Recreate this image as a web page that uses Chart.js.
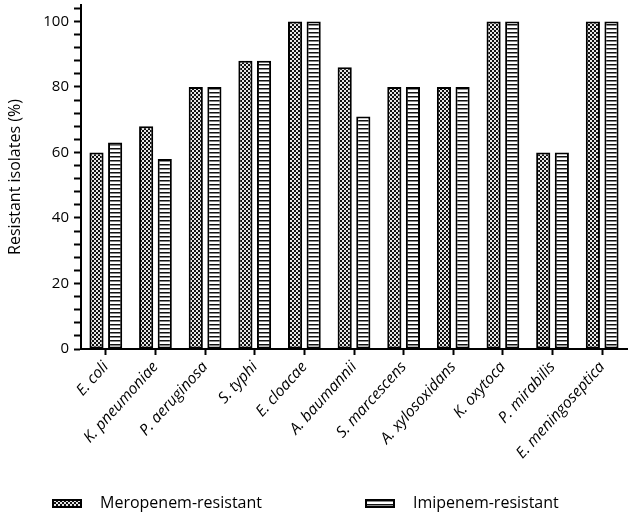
<!DOCTYPE html>
<html>
<head>
<meta charset="utf-8">
<script src="https://cdn.jsdelivr.net/npm/chart.js@4.4.1/dist/chart.umd.min.js"></script>
<style>
  html, body { margin: 0; padding: 0; background: #fff; }
  #wrap { width: 637px; height: 516px; }
</style>
</head>
<body>
<div id="wrap"><canvas id="chart" width="637" height="516"></canvas></div>
<script>
const species = [
  "E. coli", "K. pneumoniae", "P. aeruginosa", "S. typhi", "E. cloacae",
  "A. baumannii", "S. marcescens", "A. xylosoxidans", "K. oxytoca",
  "P. mirabilis", "E. meningoseptica",
];
const meropenem = [60, 68, 80, 88, 100, 86, 80, 80, 100, 60, 100];
const imipenem = [63, 58, 80, 88, 100, 71, 80, 80, 100, 60, 100];
const seriesNames = ["Meropenem-resistant", "Imipenem-resistant"];
const yMajorTicks = [0, 20, 40, 60, 80, 100];

const FONT = "'Open Sans', sans-serif";

// Fill patterns for the bars
function checkerPattern() {
  const c = document.createElement("canvas");
  c.width = 4;
  c.height = 4;
  const g = c.getContext("2d");
  g.fillStyle = "#e6e6e6";
  g.fillRect(0, 0, 4, 4);
  g.fillStyle = "#111111";
  g.fillRect(0, 0, 2, 2);
  g.fillRect(2, 2, 2, 2);
  return g.createPattern(c, "repeat");
}

function stripePattern() {
  const c = document.createElement("canvas");
  c.width = 4;
  c.height = 4;
  const g = c.getContext("2d");
  g.fillStyle = "#ffffff";
  g.fillRect(0, 0, 4, 4);
  g.fillStyle = "#111111";
  g.fillRect(0, 0, 4, 1);
  g.fillStyle = "#888888";
  g.fillRect(0, 1, 4, 1);
  return g.createPattern(c, "repeat");
}

const fills = [checkerPattern(), stripePattern()];

// Legend drawn below the axis labels
const bottomLegend = {
  id: "bottomLegend",
  afterDraw(chart) {
    const ctx = chart.ctx;
    const items = [
      { x: 52, label: seriesNames[0], fill: fills[0] },
      { x: 365, label: seriesNames[1], fill: fills[1] },
    ];
    const y = 503;
    ctx.save();
    items.forEach((it) => {
      ctx.fillStyle = it.fill;
      ctx.fillRect(it.x, y - 4, 30, 9);
      ctx.lineWidth = 2;
      ctx.strokeStyle = "#000";
      ctx.strokeRect(it.x + 1, y - 3, 28, 7);
      ctx.fillStyle = "#000";
      ctx.font = "16px " + FONT;
      ctx.textBaseline = "middle";
      ctx.fillText(it.label, it.x + 48, y);
    });
    ctx.restore();
  },
};

new Chart(document.querySelector("#chart").getContext("2d"), {
  type: "bar",
  data: {
    labels: species,
    datasets: [
      {
        label: seriesNames[0],
        data: meropenem,
        backgroundColor: fills[0],
        borderColor: "#000",
        borderWidth: 2,
        borderSkipped: false,
      },
      {
        label: seriesNames[1],
        data: imipenem,
        backgroundColor: fills[1],
        borderColor: "#000",
        borderWidth: 2,
        borderSkipped: false,
      },
    ],
  },
  options: {
    responsive: false,
    animation: false,
    categoryPercentage: 0.75,
    barPercentage: 0.76,
    layout: { padding: { top: 5, right: 10, bottom: 47, left: 0 } },
    plugins: {
      legend: { display: false },
      tooltip: { enabled: false },
    },
    scales: {
      x: {
        grid: {
          display: true,
          drawOnChartArea: false,
          offset: false,
          tickLength: 6,
          tickWidth: 2,
          tickColor: "#000",
        },
        border: { color: "#000", width: 2 },
        ticks: {
          autoSkip: false,
          minRotation: 48,
          maxRotation: 48,
          padding: 3,
          color: "#000",
          font: { family: FONT, size: 15.5, style: "italic" },
        },
        afterFit: (scale) => {
          scale.height = 120;
          scale.paddingLeft = 0;
          scale.paddingRight = 0;
        },
      },
      y: {
        min: 0,
        max: 105,
        grid: {
          display: true,
          drawOnChartArea: false,
          tickLength: 7,
          tickWidth: 2,
          tickColor: "#000",
        },
        border: { color: "#000", width: 2 },
        ticks: {
          stepSize: 4,
          autoSkip: false,
          includeBounds: false,
          padding: 5,
          color: "#000",
          font: { family: FONT, size: 15 },
          callback: (v) => (yMajorTicks.includes(v) ? v : ""),
        },
        title: {
          display: true,
          text: "Resistant isolates (%)",
          color: "#000",
          font: { family: FONT, size: 16 },
          padding: { top: 6, bottom: 2 },
        },
        afterFit: (scale) => {
          scale.width = 81;
          scale.paddingTop = 0;
          scale.paddingBottom = 0;
        },
      },
    },
  },
  plugins: [bottomLegend],
});
</script>
</body>
</html>
